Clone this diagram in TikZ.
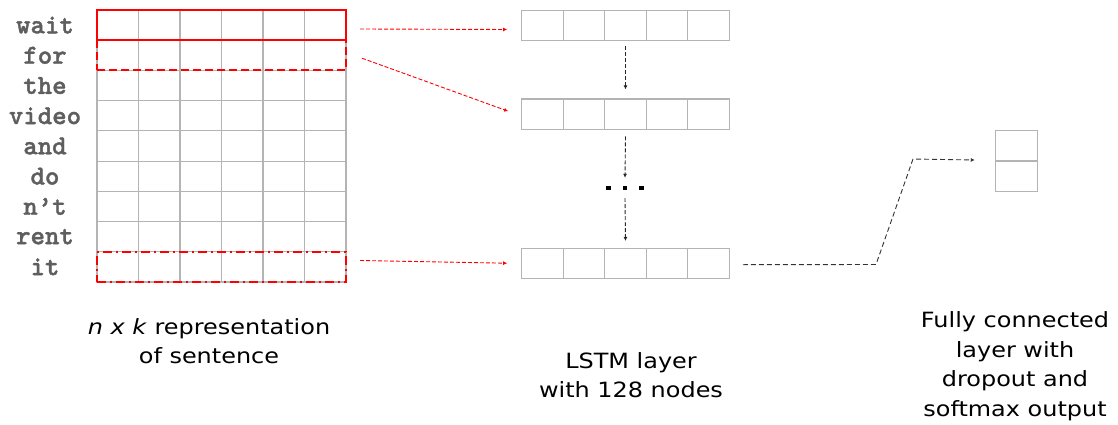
\documentclass[tikz,border=0pt]{standalone}
\usepackage{fontspec}
\setmainfont{DejaVu Sans}[FakeStretch=1.14]
\newfontfamily\wordfont{Latin Modern Mono Light}[BoldFeatures={FakeBold=1.3}]
\usetikzlibrary{arrows.meta}
\definecolor{cellgray}{HTML}{B4B4B4}
\definecolor{wordgray}{HTML}{5E5E5E}
\begin{document}
\begin{tikzpicture}[x=1pt,y=-1pt,
  wordtext/.style={font=\wordfont\bfseries\fontsize{27.5}{27.5}\selectfont, text=wordgray, inner sep=0},
  captext/.style={font=\fontsize{21}{29.5}\selectfont, align=center, inner sep=0},
  cellbox/.style={draw=cellgray, line width=1.1pt, inner sep=0},
  gridline/.style={draw=cellgray, line width=1.1pt},
  redsolid/.style={draw=red, line width=2pt, inner sep=0, minimum width=249pt, minimum height=30pt},
  reddash/.style={redsolid, dash pattern=on 8pt off 4pt},
  reddashdot/.style={redsolid, dash pattern=on 9pt off 4pt on 2pt off 4pt},
  redarrow/.style={draw=red, line width=0.9pt, dash pattern=on 4pt off 2pt, -{Latex[length=4pt,width=4pt]}},
  blackarrow/.style={draw=black!85, line width=0.9pt, dash pattern=on 4pt off 2pt, -{Latex[length=4pt,width=4pt]}},
  linkarrow/.style={draw=black!80, line width=0.9pt, dash pattern=on 5pt off 3pt, -{Latex[length=4pt,width=4pt]}},
  dotsq/.style={fill=black, minimum size=4.5pt, inner sep=0},
]
\useasboundingbox (0,0) rectangle (1118,425);

% sentence matrix: 9 words x 6 embedding dimensions
\node[cellbox, minimum width=249pt, minimum height=272pt] (grid) at (221.5,146) {};
\foreach \i in {1,...,5} \draw[gridline] (97+\i*41.5,10) -- (97+\i*41.5,282);
\foreach \j in {1,...,8} \draw[gridline] (97,10+\j*30.22) -- (346,10+\j*30.22);

\foreach \w [count=\k] in {wait,for,the,video,and,do,n’t,rent,it}
  \node[wordtext] (w\k) at (45,25.1+\k*30.22-30.22) {\w};

% sliding windows over the words
\node[redsolid] (s1) at (221.5,25) {};
\node[reddash] (s2) at (221.5,55.2) {};
\node[reddashdot] (s3) at (221.5,266.5) {};

% LSTM layer steps
\foreach \n/\y in {l1/25.5, l2/114.2, l3/263.7} {
  \node[cellbox, minimum width=207.6pt, minimum height=30.4pt] (\n) at (625.5,\y) {};
  \foreach \i in {1,...,4} \draw[gridline] (521.7+\i*41.52,\y-15.2) -- (521.7+\i*41.52,\y+15.2);
}

% ellipsis between steps
\node[inner sep=0, minimum width=40pt, minimum height=5pt] (dots) at (625,188) {};
\node[dotsq] at (608.3,188) {};
\node[dotsq] at (625,188) {};
\node[dotsq] at (641.7,188) {};

% fully connected output
\node[cellbox, minimum width=42pt, minimum height=60.3pt] (fc) at (1016.3,161) {};
\draw[gridline] (fc.west) -- (fc.east);

% connectors
\draw[redarrow] ([shift={(13,4)}]s1.east) -- ([shift={(-14,4)}]l1.west);
\draw[redarrow] ([shift={(15,3)}]s2.east) -- ([shift={(-13,-3)}]l2.west);
\draw[redarrow] ([shift={(13,-6)}]s3.east) -- ([shift={(-14,-0.5)}]l3.west);

\draw[blackarrow] ([yshift=-5]l1.south) -- ([yshift=9]l2.north);
\draw[blackarrow] ([yshift=-6.5]l2.south) -- ([yshift=7.5]dots.north);
\draw[blackarrow] ([yshift=-7.5]dots.south) -- ([yshift=7]l3.north);

\coordinate (k1) at (876,264.5);
\coordinate (k2) at (913,159);
\draw[linkarrow] ([shift={(13,1)}]l3.east) -- (k1) -- (k2) -- ([shift={(-20,-1)}]fc.west);

% captions
\node[captext] (cap1) at (209,341) {\textit{n x k} representation\\of sentence};
\node[captext] (cap2) at (631,375) {LSTM layer\\with 128 nodes};
\node[captext] (cap3) at (1015,366) {Fully connected\\layer with\\dropout and\\softmax output};
\end{tikzpicture}
\end{document}
